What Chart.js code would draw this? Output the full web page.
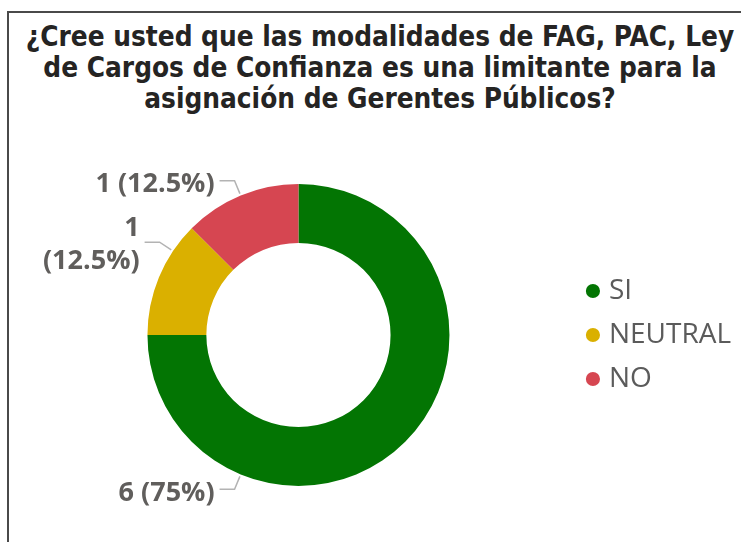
<!DOCTYPE html>
<html>
<head>
<meta charset="utf-8">
<script src="https://cdn.jsdelivr.net/npm/chart.js@4"></script>
<style>
  html, body { margin: 0; padding: 0; background: #fff; }
  body { width: 741px; height: 542px; position: relative; overflow: hidden; }
  #marco { position: absolute; left: 7px; top: 11px; width: 800px; height: 600px;
    border-left: 2px solid #4a4a4a; border-top: 2px solid #4a4a4a; }
  #titulo { position: absolute; left: 8px; top: 21px; width: 744px; text-align: center;
    font-family: "DejaVu Sans Condensed", "DejaVu Sans", sans-serif; font-weight: bold;
    font-size: 27.7px; line-height: 31px; color: #252423; white-space: nowrap; }
  #lienzo { position: absolute; left: 0; top: 0; }
</style>
</head>
<body>
<div id="marco"></div>
<div id="titulo">¿Cree usted que las modalidades de FAG, PAC, Ley<br>de Cargos de Confianza es una limitante para la<br>asignación de Gerentes Públicos?</div>
<canvas id="lienzo" width="741" height="542"></canvas>
<script>
// Datos
const categorias = ['SI', 'NEUTRAL', 'NO'];
const valores = [6, 1, 1];
const colores = ['#037503', '#dab000', '#d64651'];

// posicion de la etiqueta dentro de cada arco (fraccion del arco)
const posEtiqueta = [0.75, 0.75, 0.5];

const etiquetasFuera = {
  id: 'etiquetasFuera',
  afterDatasetsDraw(chart) {
    const ctx = chart.ctx;
    const meta = chart.getDatasetMeta(0);
    const total = valores.reduce((a, b) => a + b, 0);
    ctx.save();
    ctx.font = 'bold 27px "Open Sans", sans-serif';
    ctx.textBaseline = 'middle';
    meta.data.forEach((arc, i) => {
      const p = arc.getProps(['x', 'y', 'startAngle', 'endAngle', 'outerRadius'], true);
      const ang = p.startAngle + (p.endAngle - p.startAngle) * posEtiqueta[i];
      const c = Math.cos(ang), s = Math.sin(ang);
      const x0 = p.x + c * (p.outerRadius + 2), y0 = p.y + s * (p.outerRadius + 2);
      const x1 = p.x + c * (p.outerRadius + 16), y1 = p.y + s * (p.outerRadius + 16);
      const izq = c < 0;
      const x2 = izq ? x1 - 15 : x1 + 15;
      ctx.strokeStyle = '#b3b3b3';
      ctx.lineWidth = 1.5;
      ctx.beginPath();
      ctx.moveTo(x0, y0); ctx.lineTo(x1, y1); ctx.lineTo(x2, y1);
      ctx.stroke();

      const pct = Math.round(valores[i] / total * 1000) / 10;
      const texto = valores[i] + ' (' + pct + '%)';
      const tx = izq ? x2 - 5 : x2 + 5;
      ctx.textAlign = izq ? 'right' : 'left';
      ctx.fillStyle = '#605e5c';
      const ancho = ctx.measureText(texto).width;
      if (izq && tx - ancho < 30) {
        const partes = [String(valores[i]), '(' + pct + '%)'];
        ctx.fillText(partes[0], tx, y1 + 3 - 16.5);
        ctx.fillText(partes[1], tx, y1 + 3 + 16.5);
      } else {
        ctx.fillText(texto, tx, y1 + 4);
      }
    });
    ctx.restore();
  }
};

new Chart(document.getElementById('lienzo'), {
  type: 'doughnut',
  data: {
    labels: categorias,
    datasets: [{ data: valores, backgroundColor: colores, borderWidth: 0, hoverOffset: 0 }]
  },
  options: {
    responsive: false,
    animation: false,
    cutout: '61%',
    layout: { padding: { left: 22, right: 0, top: 184, bottom: 56 } },
    plugins: {
      legend: {
        position: 'right',
        labels: {
          usePointStyle: true, pointStyle: 'circle', boxWidth: 4, boxHeight: 10,
          padding: 16, color: '#5b5b5b',
          font: { family: '"Open Sans", sans-serif', size: 28 }
        }
      },
      tooltip: { enabled: false }
    }
  },
  plugins: [etiquetasFuera]
});
</script>
</body>
</html>
